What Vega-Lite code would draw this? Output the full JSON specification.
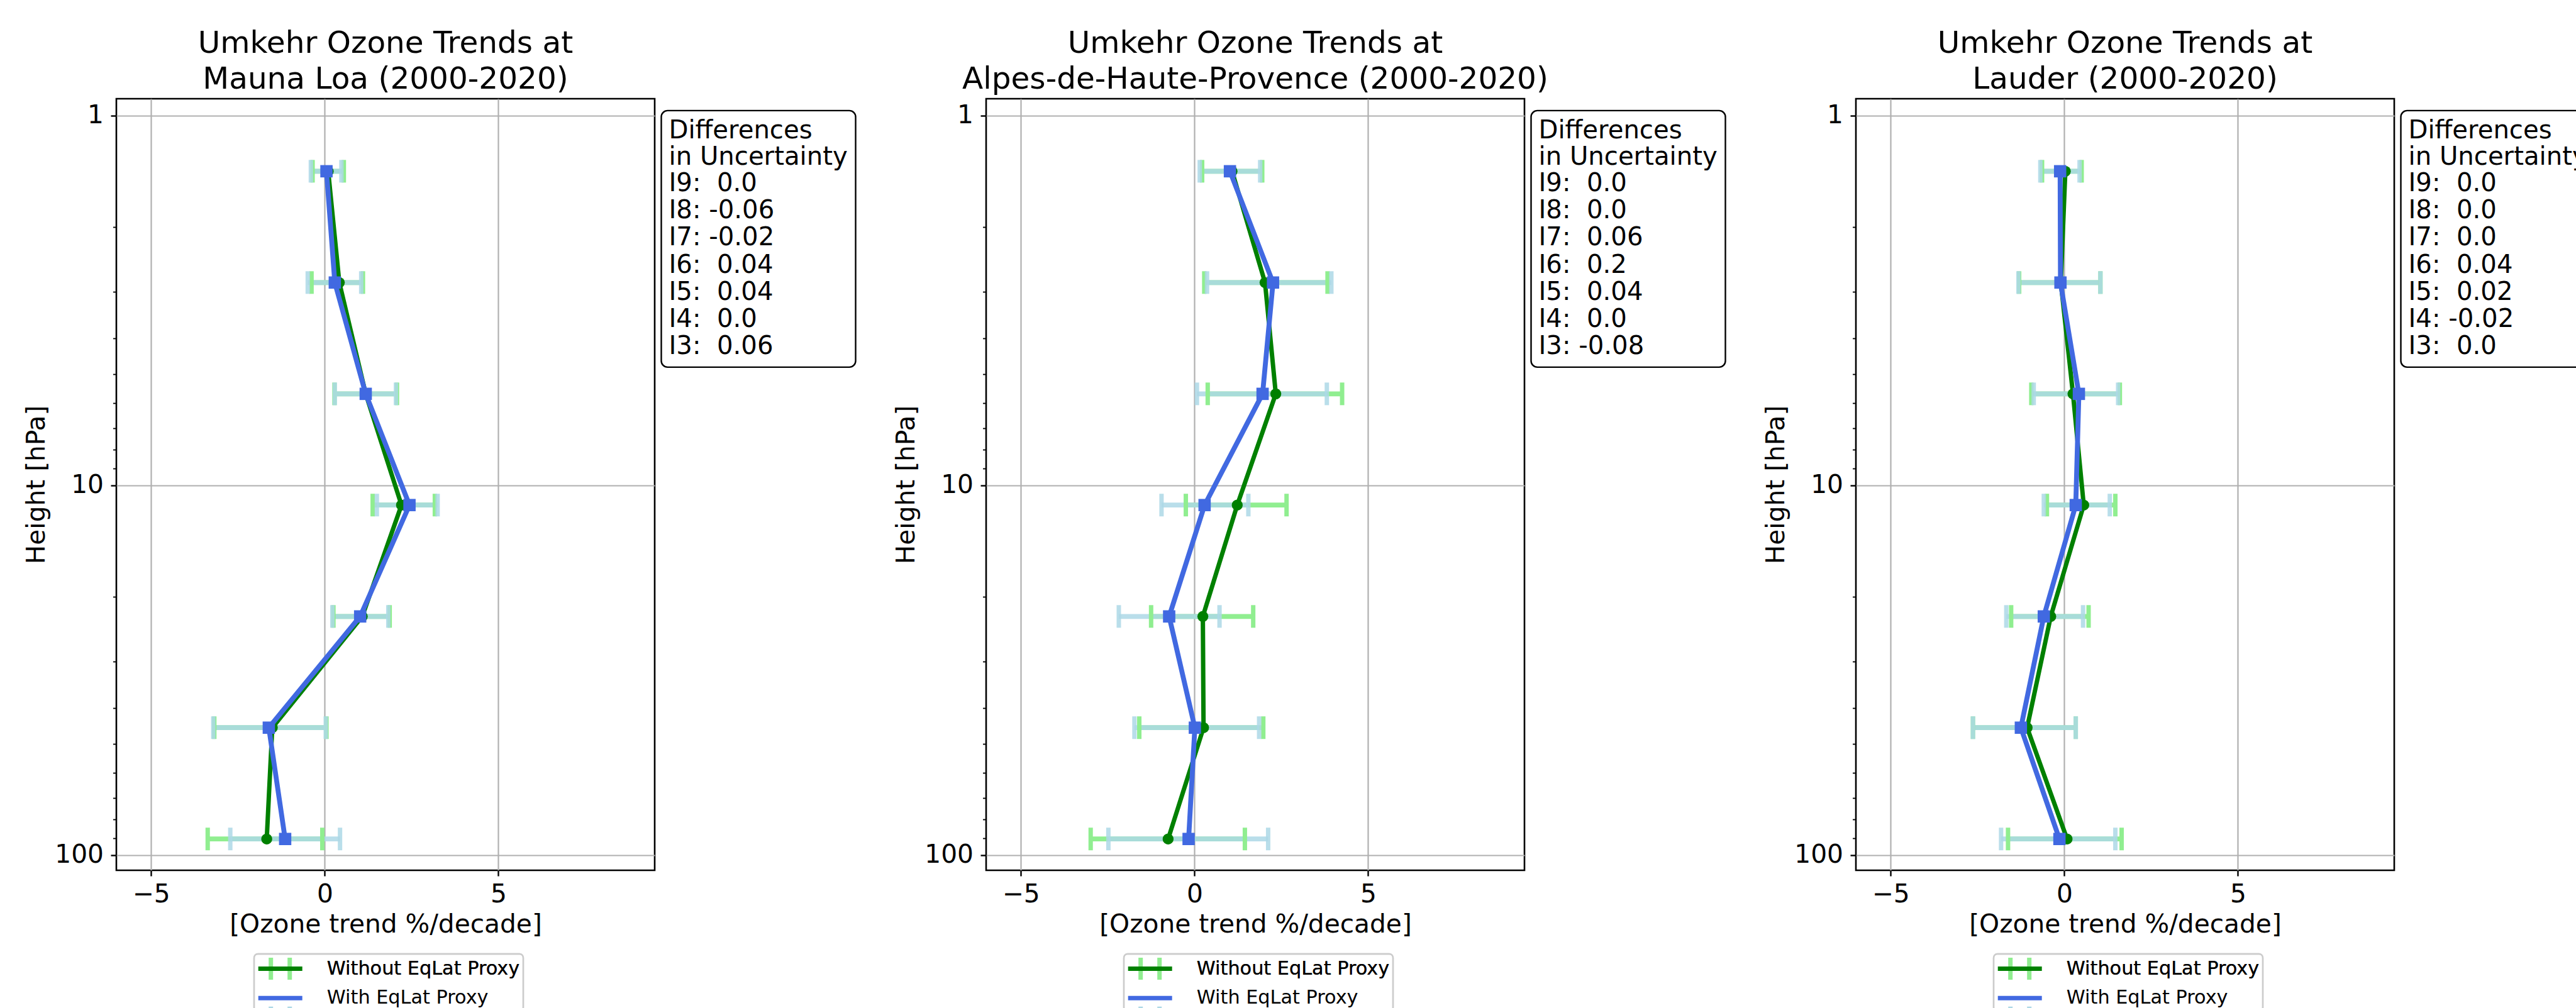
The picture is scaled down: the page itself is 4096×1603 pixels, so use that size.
{
  "$schema": "https://vega.github.io/schema/vega-lite/v6.json",
  "background": "white",
  "padding": {"left": 35, "top": 43, "right": 0, "bottom": 0},
  "datasets": {
    "trends": [
      {"site": "Mauna Loa", "series": "Without EqLat Proxy", "p": 1.414, "v": 0.10, "lo": -0.35, "hi": 0.55},
      {"site": "Mauna Loa", "series": "Without EqLat Proxy", "p": 2.828, "v": 0.42, "lo": -0.38, "hi": 1.10},
      {"site": "Mauna Loa", "series": "Without EqLat Proxy", "p": 5.657, "v": 1.18, "lo": 0.28, "hi": 2.08},
      {"site": "Mauna Loa", "series": "Without EqLat Proxy", "p": 11.31, "v": 2.21, "lo": 1.38, "hi": 3.17},
      {"site": "Mauna Loa", "series": "Without EqLat Proxy", "p": 22.63, "v": 1.08, "lo": 0.25, "hi": 1.87},
      {"site": "Mauna Loa", "series": "Without EqLat Proxy", "p": 45.25, "v": -1.51, "lo": -3.18, "hi": 0.05},
      {"site": "Mauna Loa", "series": "Without EqLat Proxy", "p": 90.51, "v": -1.67, "lo": -3.37, "hi": -0.07},
      {"site": "Mauna Loa", "series": "With EqLat Proxy", "p": 1.414, "v": 0.05, "lo": -0.40, "hi": 0.48},
      {"site": "Mauna Loa", "series": "With EqLat Proxy", "p": 2.828, "v": 0.29, "lo": -0.49, "hi": 1.05},
      {"site": "Mauna Loa", "series": "With EqLat Proxy", "p": 5.657, "v": 1.18, "lo": 0.29, "hi": 2.05},
      {"site": "Mauna Loa", "series": "With EqLat Proxy", "p": 11.31, "v": 2.44, "lo": 1.50, "hi": 3.25},
      {"site": "Mauna Loa", "series": "With EqLat Proxy", "p": 22.63, "v": 1.02, "lo": 0.22, "hi": 1.83},
      {"site": "Mauna Loa", "series": "With EqLat Proxy", "p": 45.25, "v": -1.61, "lo": -3.21, "hi": 0.03},
      {"site": "Mauna Loa", "series": "With EqLat Proxy", "p": 90.51, "v": -1.14, "lo": -2.72, "hi": 0.44},
      {"site": "Alpes-de-Haute-Provence", "series": "Without EqLat Proxy", "p": 1.414, "v": 1.08, "lo": 0.22, "hi": 1.95},
      {"site": "Alpes-de-Haute-Provence", "series": "Without EqLat Proxy", "p": 2.828, "v": 2.03, "lo": 0.28, "hi": 3.83},
      {"site": "Alpes-de-Haute-Provence", "series": "Without EqLat Proxy", "p": 5.657, "v": 2.34, "lo": 0.38, "hi": 4.25},
      {"site": "Alpes-de-Haute-Provence", "series": "Without EqLat Proxy", "p": 11.31, "v": 1.23, "lo": -0.25, "hi": 2.65},
      {"site": "Alpes-de-Haute-Provence", "series": "Without EqLat Proxy", "p": 22.63, "v": 0.24, "lo": -1.25, "hi": 1.69},
      {"site": "Alpes-de-Haute-Provence", "series": "Without EqLat Proxy", "p": 45.25, "v": 0.26, "lo": -1.59, "hi": 1.98},
      {"site": "Alpes-de-Haute-Provence", "series": "Without EqLat Proxy", "p": 90.51, "v": -0.76, "lo": -2.99, "hi": 1.45},
      {"site": "Alpes-de-Haute-Provence", "series": "With EqLat Proxy", "p": 1.414, "v": 1.02, "lo": 0.15, "hi": 1.89},
      {"site": "Alpes-de-Haute-Provence", "series": "With EqLat Proxy", "p": 2.828, "v": 2.26, "lo": 0.36, "hi": 3.94},
      {"site": "Alpes-de-Haute-Provence", "series": "With EqLat Proxy", "p": 5.657, "v": 1.96, "lo": 0.07, "hi": 3.81},
      {"site": "Alpes-de-Haute-Provence", "series": "With EqLat Proxy", "p": 11.31, "v": 0.29, "lo": -0.95, "hi": 1.55},
      {"site": "Alpes-de-Haute-Provence", "series": "With EqLat Proxy", "p": 22.63, "v": -0.73, "lo": -2.18, "hi": 0.72},
      {"site": "Alpes-de-Haute-Provence", "series": "With EqLat Proxy", "p": 45.25, "v": 0.01, "lo": -1.73, "hi": 1.86},
      {"site": "Alpes-de-Haute-Provence", "series": "With EqLat Proxy", "p": 90.51, "v": -0.17, "lo": -2.48, "hi": 2.12},
      {"site": "Lauder", "series": "Without EqLat Proxy", "p": 1.414, "v": 0.03, "lo": -0.64, "hi": 0.50},
      {"site": "Lauder", "series": "Without EqLat Proxy", "p": 2.828, "v": -0.10, "lo": -1.30, "hi": 1.04},
      {"site": "Lauder", "series": "Without EqLat Proxy", "p": 5.657, "v": 0.25, "lo": -0.95, "hi": 1.60},
      {"site": "Lauder", "series": "Without EqLat Proxy", "p": 11.31, "v": 0.56, "lo": -0.50, "hi": 1.47},
      {"site": "Lauder", "series": "Without EqLat Proxy", "p": 22.63, "v": -0.39, "lo": -1.53, "hi": 0.70},
      {"site": "Lauder", "series": "Without EqLat Proxy", "p": 45.25, "v": -1.07, "lo": -2.63, "hi": 0.33},
      {"site": "Lauder", "series": "Without EqLat Proxy", "p": 90.51, "v": 0.08, "lo": -1.62, "hi": 1.65},
      {"site": "Lauder", "series": "With EqLat Proxy", "p": 1.414, "v": -0.12, "lo": -0.69, "hi": 0.44},
      {"site": "Lauder", "series": "With EqLat Proxy", "p": 2.828, "v": -0.11, "lo": -1.32, "hi": 1.04},
      {"site": "Lauder", "series": "With EqLat Proxy", "p": 5.657, "v": 0.42, "lo": -0.88, "hi": 1.55},
      {"site": "Lauder", "series": "With EqLat Proxy", "p": 11.31, "v": 0.33, "lo": -0.59, "hi": 1.31},
      {"site": "Lauder", "series": "With EqLat Proxy", "p": 22.63, "v": -0.59, "lo": -1.67, "hi": 0.54},
      {"site": "Lauder", "series": "With EqLat Proxy", "p": 45.25, "v": -1.25, "lo": -2.63, "hi": 0.33},
      {"site": "Lauder", "series": "With EqLat Proxy", "p": 90.51, "v": -0.14, "lo": -1.82, "hi": 1.47}
    ],
    "diffs": [
      {"site": "Mauna Loa", "ord": 1, "label": "I9: \u00a00.0"},
      {"site": "Mauna Loa", "ord": 2, "label": "I8: -0.06"},
      {"site": "Mauna Loa", "ord": 3, "label": "I7: -0.02"},
      {"site": "Mauna Loa", "ord": 4, "label": "I6: \u00a00.04"},
      {"site": "Mauna Loa", "ord": 5, "label": "I5: \u00a00.04"},
      {"site": "Mauna Loa", "ord": 6, "label": "I4: \u00a00.0"},
      {"site": "Mauna Loa", "ord": 7, "label": "I3: \u00a00.06"},
      {"site": "Alpes-de-Haute-Provence", "ord": 1, "label": "I9: \u00a00.0"},
      {"site": "Alpes-de-Haute-Provence", "ord": 2, "label": "I8: \u00a00.0"},
      {"site": "Alpes-de-Haute-Provence", "ord": 3, "label": "I7: \u00a00.06"},
      {"site": "Alpes-de-Haute-Provence", "ord": 4, "label": "I6: \u00a00.2"},
      {"site": "Alpes-de-Haute-Provence", "ord": 5, "label": "I5: \u00a00.04"},
      {"site": "Alpes-de-Haute-Provence", "ord": 6, "label": "I4: \u00a00.0"},
      {"site": "Alpes-de-Haute-Provence", "ord": 7, "label": "I3: -0.08"},
      {"site": "Lauder", "ord": 1, "label": "I9: \u00a00.0"},
      {"site": "Lauder", "ord": 2, "label": "I8: \u00a00.0"},
      {"site": "Lauder", "ord": 3, "label": "I7: \u00a00.0"},
      {"site": "Lauder", "ord": 4, "label": "I6: \u00a00.04"},
      {"site": "Lauder", "ord": 5, "label": "I5: \u00a00.02"},
      {"site": "Lauder", "ord": 6, "label": "I4: -0.02"},
      {"site": "Lauder", "ord": 7, "label": "I3: \u00a00.0"}
    ]
  },
  "hconcat": [
    {
      "width": 856, "height": 1227,
      "title": {"text": ["Umkehr Ozone Trends at\u00a0", "Mauna Loa (2000-2020)"]},
      "resolve": {"axis": {"y": "independent"}},
      "layer": [
        {
          "data": {"name": "trends"},
          "transform": [{"filter": "datum.site == 'Mauna Loa'"}],
          "mark": {"type": "rule", "strokeWidth": 7.7, "strokeCap": "butt"},
          "encoding": {
            "y": {"field": "p", "type": "quantitative", "title": "Height [hPa]", "scale": {"type": "log", "domain": [0.9, 110], "reverse": true, "nice": false}, "axis": {"values": [1, 10, 100], "format": "d", "grid": true, "orient": "left"}},
            "x": {"field": "lo", "type": "quantitative", "title": "[Ozone trend %/decade]", "scale": {"domain": [-6, 9.5], "nice": false, "zero": false}, "axis": {"values": [-5, 0, 5], "grid": true}},
            "x2": {"field": "hi"},
            "stroke": {"field": "series", "type": "nominal", "sort": "descending", "scale": {"range": ["#90EE90", "#ADD8E6"]},
              "legend": {"orient": "none", "legendX": 219, "legendY": 1360, "direction": "vertical", "title": null, "symbolType": "M-1,-1.167V1.167M1,-1.167V1.167", "symbolSize": 900, "symbolStrokeWidth": 7, "symbolOffset": 18.2, "labelOffset": 55.6, "rowPadding": 12.8, "padding": 5, "strokeColor": "#cccccc", "cornerRadius": 6, "labelFontSize": 30.3}},
            "strokeOpacity": {"condition": {"test": "datum.series == 'With EqLat Proxy'", "value": 0.85}, "value": 1}
          }
        },
        {
          "data": {"name": "trends"},
          "transform": [{"filter": "datum.site == 'Mauna Loa' && datum.series == 'Without EqLat Proxy'"}, {"fold": ["lo", "hi"], "as": ["end", "xe"]}],
          "mark": {"type": "point", "shape": "M0,-1V1", "filled": false, "size": 1296, "strokeWidth": 7, "strokeCap": "butt", "opacity": 1, "stroke": "#90EE90"},
          "encoding": {
            "y": {"field": "p", "type": "quantitative", "scale": {"type": "log", "domain": [0.9, 110], "reverse": true, "nice": false}, "axis": {"values": [2, 3, 4, 5, 6, 7, 8, 9, 20, 30, 40, 50, 60, 70, 80, 90], "labels": false, "grid": false, "tickSize": 5.5, "tickWidth": 1.8, "title": null, "orient": "left"}},
            "x": {"field": "xe", "type": "quantitative", "title": "[Ozone trend %/decade]", "scale": {"domain": [-6, 9.5], "nice": false, "zero": false}, "axis": {"values": [-5, 0, 5], "grid": true}}
          }
        },
        {
          "data": {"name": "trends"},
          "transform": [{"filter": "datum.site == 'Mauna Loa' && datum.series == 'With EqLat Proxy'"}, {"fold": ["lo", "hi"], "as": ["end", "xe"]}],
          "mark": {"type": "point", "shape": "M0,-1V1", "filled": false, "size": 1296, "strokeWidth": 7, "strokeCap": "butt", "opacity": 1, "stroke": "#ADD8E6", "strokeOpacity": 0.85},
          "encoding": {
            "y": {"field": "p", "type": "quantitative", "scale": {"type": "log", "domain": [0.9, 110], "reverse": true, "nice": false}, "axis": null},
            "x": {"field": "xe", "type": "quantitative", "title": "[Ozone trend %/decade]", "scale": {"domain": [-6, 9.5], "nice": false, "zero": false}, "axis": {"values": [-5, 0, 5], "grid": true}}
          }
        },
        {
          "data": {"name": "trends"},
          "transform": [{"filter": "datum.site == 'Mauna Loa' && datum.series == 'Without EqLat Proxy'"}],
          "mark": {"type": "line", "strokeWidth": 7, "strokeJoin": "round"},
          "encoding": {
            "y": {"field": "p", "type": "quantitative", "scale": {"type": "log", "domain": [0.9, 110], "reverse": true, "nice": false}, "axis": null},
            "x": {"field": "v", "type": "quantitative", "title": "[Ozone trend %/decade]", "scale": {"domain": [-6, 9.5], "nice": false, "zero": false}, "axis": {"values": [-5, 0, 5], "grid": true}},
            "order": {"field": "p", "type": "quantitative"},
            "color": {"field": "series", "type": "nominal", "scale": {"domain": ["Without EqLat Proxy", "With EqLat Proxy"], "range": ["#008000", "#4169E1"]},
              "legend": {"orient": "none", "legendX": 219, "legendY": 1360, "direction": "vertical", "title": null, "symbolType": "M-2.333,0H2.333", "symbolSize": 900, "symbolStrokeWidth": 7, "symbolOffset": 18.2, "labelOffset": 55.6, "rowPadding": 12.8, "padding": 5, "strokeColor": "#cccccc", "cornerRadius": 6, "labelFontSize": 30.3}}
          }
        },
        {
          "data": {"name": "trends"},
          "transform": [{"filter": "datum.site == 'Mauna Loa' && datum.series == 'Without EqLat Proxy'"}],
          "mark": {"type": "point", "shape": "circle", "filled": true, "size": 302, "opacity": 1, "fill": "#008000"},
          "encoding": {
            "y": {"field": "p", "type": "quantitative", "scale": {"type": "log", "domain": [0.9, 110], "reverse": true, "nice": false}, "axis": null},
            "x": {"field": "v", "type": "quantitative", "title": "[Ozone trend %/decade]", "scale": {"domain": [-6, 9.5], "nice": false, "zero": false}, "axis": {"values": [-5, 0, 5], "grid": true}}
          }
        },
        {
          "data": {"name": "trends"},
          "transform": [{"filter": "datum.site == 'Mauna Loa' && datum.series == 'With EqLat Proxy'"}],
          "mark": {"type": "line", "strokeWidth": 7.8, "strokeJoin": "round"},
          "encoding": {
            "y": {"field": "p", "type": "quantitative", "scale": {"type": "log", "domain": [0.9, 110], "reverse": true, "nice": false}, "axis": null},
            "x": {"field": "v", "type": "quantitative", "title": "[Ozone trend %/decade]", "scale": {"domain": [-6, 9.5], "nice": false, "zero": false}, "axis": {"values": [-5, 0, 5], "grid": true}},
            "order": {"field": "p", "type": "quantitative"},
            "color": {"field": "series", "type": "nominal", "scale": {"domain": ["Without EqLat Proxy", "With EqLat Proxy"], "range": ["#008000", "#4169E1"]},
              "legend": {"orient": "none", "legendX": 219, "legendY": 1360, "direction": "vertical", "title": null, "symbolType": "M-2.333,0H2.333", "symbolSize": 900, "symbolStrokeWidth": 7, "symbolOffset": 18.2, "labelOffset": 55.6, "rowPadding": 12.8, "padding": 5, "strokeColor": "#cccccc", "cornerRadius": 6, "labelFontSize": 30.3}}
          }
        },
        {
          "data": {"name": "trends"},
          "transform": [{"filter": "datum.site == 'Mauna Loa' && datum.series == 'With EqLat Proxy'"}],
          "mark": {"type": "point", "shape": "square", "filled": true, "size": 384, "opacity": 1, "fill": "#4169E1"},
          "encoding": {
            "y": {"field": "p", "type": "quantitative", "scale": {"type": "log", "domain": [0.9, 110], "reverse": true, "nice": false}, "axis": null},
            "x": {"field": "v", "type": "quantitative", "title": "[Ozone trend %/decade]", "scale": {"domain": [-6, 9.5], "nice": false, "zero": false}, "axis": {"values": [-5, 0, 5], "grid": true}}
          }
        },
        {
          "data": {"name": "diffs"},
          "transform": [{"filter": "datum.site == 'Mauna Loa'"}],
          "mark": {"type": "point", "opacity": 0},
          "encoding": {
            "shape": {"field": "label", "type": "nominal", "sort": {"field": "ord", "op": "min"},
              "legend": {"orient": "none", "legendX": 866.5, "legendY": 18.9, "direction": "vertical", "title": ["Differences", "in Uncertainty"], "titleFontSize": 40.2, "titleFontWeight": "normal", "titleLineHeight": 42.5, "titlePadding": 1, "titleAnchor": "start", "labelFontSize": 40.2, "labelOffset": -40.2, "symbolSize": 0, "symbolStrokeWidth": 0, "symbolOpacity": 0, "rowPadding": 2.3, "padding": 12, "strokeColor": "black", "cornerRadius": 10, "encode": {"legend": {"strokeWidth": {"value": 2.6}}}}}
          }
        }
      ]
    },
    {
      "width": 856, "height": 1227,
      "title": {"text": ["Umkehr Ozone Trends at\u00a0", "Alpes-de-Haute-Provence (2000-2020)"]},
      "resolve": {"axis": {"y": "independent"}},
      "layer": [
        {
          "data": {"name": "trends"},
          "transform": [{"filter": "datum.site == 'Alpes-de-Haute-Provence'"}],
          "mark": {"type": "rule", "strokeWidth": 7.7, "strokeCap": "butt"},
          "encoding": {
            "y": {"field": "p", "type": "quantitative", "title": "Height [hPa]", "scale": {"type": "log", "domain": [0.9, 110], "reverse": true, "nice": false}, "axis": {"values": [1, 10, 100], "format": "d", "grid": true, "orient": "left"}},
            "x": {"field": "lo", "type": "quantitative", "title": "[Ozone trend %/decade]", "scale": {"domain": [-6, 9.5], "nice": false, "zero": false}, "axis": {"values": [-5, 0, 5], "grid": true}},
            "x2": {"field": "hi"},
            "stroke": {"field": "series", "type": "nominal", "sort": "descending", "scale": {"range": ["#90EE90", "#ADD8E6"]},
              "legend": {"orient": "none", "legendX": 219, "legendY": 1360, "direction": "vertical", "title": null, "symbolType": "M-1,-1.167V1.167M1,-1.167V1.167", "symbolSize": 900, "symbolStrokeWidth": 7, "symbolOffset": 18.2, "labelOffset": 55.6, "rowPadding": 12.8, "padding": 5, "strokeColor": "#cccccc", "cornerRadius": 6, "labelFontSize": 30.3}},
            "strokeOpacity": {"condition": {"test": "datum.series == 'With EqLat Proxy'", "value": 0.85}, "value": 1}
          }
        },
        {
          "data": {"name": "trends"},
          "transform": [{"filter": "datum.site == 'Alpes-de-Haute-Provence' && datum.series == 'Without EqLat Proxy'"}, {"fold": ["lo", "hi"], "as": ["end", "xe"]}],
          "mark": {"type": "point", "shape": "M0,-1V1", "filled": false, "size": 1296, "strokeWidth": 7, "strokeCap": "butt", "opacity": 1, "stroke": "#90EE90"},
          "encoding": {
            "y": {"field": "p", "type": "quantitative", "scale": {"type": "log", "domain": [0.9, 110], "reverse": true, "nice": false}, "axis": {"values": [2, 3, 4, 5, 6, 7, 8, 9, 20, 30, 40, 50, 60, 70, 80, 90], "labels": false, "grid": false, "tickSize": 5.5, "tickWidth": 1.8, "title": null, "orient": "left"}},
            "x": {"field": "xe", "type": "quantitative", "title": "[Ozone trend %/decade]", "scale": {"domain": [-6, 9.5], "nice": false, "zero": false}, "axis": {"values": [-5, 0, 5], "grid": true}}
          }
        },
        {
          "data": {"name": "trends"},
          "transform": [{"filter": "datum.site == 'Alpes-de-Haute-Provence' && datum.series == 'With EqLat Proxy'"}, {"fold": ["lo", "hi"], "as": ["end", "xe"]}],
          "mark": {"type": "point", "shape": "M0,-1V1", "filled": false, "size": 1296, "strokeWidth": 7, "strokeCap": "butt", "opacity": 1, "stroke": "#ADD8E6", "strokeOpacity": 0.85},
          "encoding": {
            "y": {"field": "p", "type": "quantitative", "scale": {"type": "log", "domain": [0.9, 110], "reverse": true, "nice": false}, "axis": null},
            "x": {"field": "xe", "type": "quantitative", "title": "[Ozone trend %/decade]", "scale": {"domain": [-6, 9.5], "nice": false, "zero": false}, "axis": {"values": [-5, 0, 5], "grid": true}}
          }
        },
        {
          "data": {"name": "trends"},
          "transform": [{"filter": "datum.site == 'Alpes-de-Haute-Provence' && datum.series == 'Without EqLat Proxy'"}],
          "mark": {"type": "line", "strokeWidth": 7, "strokeJoin": "round"},
          "encoding": {
            "y": {"field": "p", "type": "quantitative", "scale": {"type": "log", "domain": [0.9, 110], "reverse": true, "nice": false}, "axis": null},
            "x": {"field": "v", "type": "quantitative", "title": "[Ozone trend %/decade]", "scale": {"domain": [-6, 9.5], "nice": false, "zero": false}, "axis": {"values": [-5, 0, 5], "grid": true}},
            "order": {"field": "p", "type": "quantitative"},
            "color": {"field": "series", "type": "nominal", "scale": {"domain": ["Without EqLat Proxy", "With EqLat Proxy"], "range": ["#008000", "#4169E1"]},
              "legend": {"orient": "none", "legendX": 219, "legendY": 1360, "direction": "vertical", "title": null, "symbolType": "M-2.333,0H2.333", "symbolSize": 900, "symbolStrokeWidth": 7, "symbolOffset": 18.2, "labelOffset": 55.6, "rowPadding": 12.8, "padding": 5, "strokeColor": "#cccccc", "cornerRadius": 6, "labelFontSize": 30.3}}
          }
        },
        {
          "data": {"name": "trends"},
          "transform": [{"filter": "datum.site == 'Alpes-de-Haute-Provence' && datum.series == 'Without EqLat Proxy'"}],
          "mark": {"type": "point", "shape": "circle", "filled": true, "size": 302, "opacity": 1, "fill": "#008000"},
          "encoding": {
            "y": {"field": "p", "type": "quantitative", "scale": {"type": "log", "domain": [0.9, 110], "reverse": true, "nice": false}, "axis": null},
            "x": {"field": "v", "type": "quantitative", "title": "[Ozone trend %/decade]", "scale": {"domain": [-6, 9.5], "nice": false, "zero": false}, "axis": {"values": [-5, 0, 5], "grid": true}}
          }
        },
        {
          "data": {"name": "trends"},
          "transform": [{"filter": "datum.site == 'Alpes-de-Haute-Provence' && datum.series == 'With EqLat Proxy'"}],
          "mark": {"type": "line", "strokeWidth": 7.8, "strokeJoin": "round"},
          "encoding": {
            "y": {"field": "p", "type": "quantitative", "scale": {"type": "log", "domain": [0.9, 110], "reverse": true, "nice": false}, "axis": null},
            "x": {"field": "v", "type": "quantitative", "title": "[Ozone trend %/decade]", "scale": {"domain": [-6, 9.5], "nice": false, "zero": false}, "axis": {"values": [-5, 0, 5], "grid": true}},
            "order": {"field": "p", "type": "quantitative"},
            "color": {"field": "series", "type": "nominal", "scale": {"domain": ["Without EqLat Proxy", "With EqLat Proxy"], "range": ["#008000", "#4169E1"]},
              "legend": {"orient": "none", "legendX": 219, "legendY": 1360, "direction": "vertical", "title": null, "symbolType": "M-2.333,0H2.333", "symbolSize": 900, "symbolStrokeWidth": 7, "symbolOffset": 18.2, "labelOffset": 55.6, "rowPadding": 12.8, "padding": 5, "strokeColor": "#cccccc", "cornerRadius": 6, "labelFontSize": 30.3}}
          }
        },
        {
          "data": {"name": "trends"},
          "transform": [{"filter": "datum.site == 'Alpes-de-Haute-Provence' && datum.series == 'With EqLat Proxy'"}],
          "mark": {"type": "point", "shape": "square", "filled": true, "size": 384, "opacity": 1, "fill": "#4169E1"},
          "encoding": {
            "y": {"field": "p", "type": "quantitative", "scale": {"type": "log", "domain": [0.9, 110], "reverse": true, "nice": false}, "axis": null},
            "x": {"field": "v", "type": "quantitative", "title": "[Ozone trend %/decade]", "scale": {"domain": [-6, 9.5], "nice": false, "zero": false}, "axis": {"values": [-5, 0, 5], "grid": true}}
          }
        },
        {
          "data": {"name": "diffs"},
          "transform": [{"filter": "datum.site == 'Alpes-de-Haute-Provence'"}],
          "mark": {"type": "point", "opacity": 0},
          "encoding": {
            "shape": {"field": "label", "type": "nominal", "sort": {"field": "ord", "op": "min"},
              "legend": {"orient": "none", "legendX": 866.5, "legendY": 18.9, "direction": "vertical", "title": ["Differences", "in Uncertainty"], "titleFontSize": 40.2, "titleFontWeight": "normal", "titleLineHeight": 42.5, "titlePadding": 1, "titleAnchor": "start", "labelFontSize": 40.2, "labelOffset": -40.2, "symbolSize": 0, "symbolStrokeWidth": 0, "symbolOpacity": 0, "rowPadding": 2.3, "padding": 12, "strokeColor": "black", "cornerRadius": 10, "encode": {"legend": {"strokeWidth": {"value": 2.6}}}}}
          }
        }
      ]
    },
    {
      "width": 856, "height": 1227,
      "title": {"text": ["Umkehr Ozone Trends at\u00a0", "Lauder (2000-2020)"]},
      "resolve": {"axis": {"y": "independent"}},
      "layer": [
        {
          "data": {"name": "trends"},
          "transform": [{"filter": "datum.site == 'Lauder'"}],
          "mark": {"type": "rule", "strokeWidth": 7.7, "strokeCap": "butt"},
          "encoding": {
            "y": {"field": "p", "type": "quantitative", "title": "Height [hPa]", "scale": {"type": "log", "domain": [0.9, 110], "reverse": true, "nice": false}, "axis": {"values": [1, 10, 100], "format": "d", "grid": true, "orient": "left"}},
            "x": {"field": "lo", "type": "quantitative", "title": "[Ozone trend %/decade]", "scale": {"domain": [-6, 9.5], "nice": false, "zero": false}, "axis": {"values": [-5, 0, 5], "grid": true}},
            "x2": {"field": "hi"},
            "stroke": {"field": "series", "type": "nominal", "sort": "descending", "scale": {"range": ["#90EE90", "#ADD8E6"]},
              "legend": {"orient": "none", "legendX": 219, "legendY": 1360, "direction": "vertical", "title": null, "symbolType": "M-1,-1.167V1.167M1,-1.167V1.167", "symbolSize": 900, "symbolStrokeWidth": 7, "symbolOffset": 18.2, "labelOffset": 55.6, "rowPadding": 12.8, "padding": 5, "strokeColor": "#cccccc", "cornerRadius": 6, "labelFontSize": 30.3}},
            "strokeOpacity": {"condition": {"test": "datum.series == 'With EqLat Proxy'", "value": 0.85}, "value": 1}
          }
        },
        {
          "data": {"name": "trends"},
          "transform": [{"filter": "datum.site == 'Lauder' && datum.series == 'Without EqLat Proxy'"}, {"fold": ["lo", "hi"], "as": ["end", "xe"]}],
          "mark": {"type": "point", "shape": "M0,-1V1", "filled": false, "size": 1296, "strokeWidth": 7, "strokeCap": "butt", "opacity": 1, "stroke": "#90EE90"},
          "encoding": {
            "y": {"field": "p", "type": "quantitative", "scale": {"type": "log", "domain": [0.9, 110], "reverse": true, "nice": false}, "axis": {"values": [2, 3, 4, 5, 6, 7, 8, 9, 20, 30, 40, 50, 60, 70, 80, 90], "labels": false, "grid": false, "tickSize": 5.5, "tickWidth": 1.8, "title": null, "orient": "left"}},
            "x": {"field": "xe", "type": "quantitative", "title": "[Ozone trend %/decade]", "scale": {"domain": [-6, 9.5], "nice": false, "zero": false}, "axis": {"values": [-5, 0, 5], "grid": true}}
          }
        },
        {
          "data": {"name": "trends"},
          "transform": [{"filter": "datum.site == 'Lauder' && datum.series == 'With EqLat Proxy'"}, {"fold": ["lo", "hi"], "as": ["end", "xe"]}],
          "mark": {"type": "point", "shape": "M0,-1V1", "filled": false, "size": 1296, "strokeWidth": 7, "strokeCap": "butt", "opacity": 1, "stroke": "#ADD8E6", "strokeOpacity": 0.85},
          "encoding": {
            "y": {"field": "p", "type": "quantitative", "scale": {"type": "log", "domain": [0.9, 110], "reverse": true, "nice": false}, "axis": null},
            "x": {"field": "xe", "type": "quantitative", "title": "[Ozone trend %/decade]", "scale": {"domain": [-6, 9.5], "nice": false, "zero": false}, "axis": {"values": [-5, 0, 5], "grid": true}}
          }
        },
        {
          "data": {"name": "trends"},
          "transform": [{"filter": "datum.site == 'Lauder' && datum.series == 'Without EqLat Proxy'"}],
          "mark": {"type": "line", "strokeWidth": 7, "strokeJoin": "round"},
          "encoding": {
            "y": {"field": "p", "type": "quantitative", "scale": {"type": "log", "domain": [0.9, 110], "reverse": true, "nice": false}, "axis": null},
            "x": {"field": "v", "type": "quantitative", "title": "[Ozone trend %/decade]", "scale": {"domain": [-6, 9.5], "nice": false, "zero": false}, "axis": {"values": [-5, 0, 5], "grid": true}},
            "order": {"field": "p", "type": "quantitative"},
            "color": {"field": "series", "type": "nominal", "scale": {"domain": ["Without EqLat Proxy", "With EqLat Proxy"], "range": ["#008000", "#4169E1"]},
              "legend": {"orient": "none", "legendX": 219, "legendY": 1360, "direction": "vertical", "title": null, "symbolType": "M-2.333,0H2.333", "symbolSize": 900, "symbolStrokeWidth": 7, "symbolOffset": 18.2, "labelOffset": 55.6, "rowPadding": 12.8, "padding": 5, "strokeColor": "#cccccc", "cornerRadius": 6, "labelFontSize": 30.3}}
          }
        },
        {
          "data": {"name": "trends"},
          "transform": [{"filter": "datum.site == 'Lauder' && datum.series == 'Without EqLat Proxy'"}],
          "mark": {"type": "point", "shape": "circle", "filled": true, "size": 302, "opacity": 1, "fill": "#008000"},
          "encoding": {
            "y": {"field": "p", "type": "quantitative", "scale": {"type": "log", "domain": [0.9, 110], "reverse": true, "nice": false}, "axis": null},
            "x": {"field": "v", "type": "quantitative", "title": "[Ozone trend %/decade]", "scale": {"domain": [-6, 9.5], "nice": false, "zero": false}, "axis": {"values": [-5, 0, 5], "grid": true}}
          }
        },
        {
          "data": {"name": "trends"},
          "transform": [{"filter": "datum.site == 'Lauder' && datum.series == 'With EqLat Proxy'"}],
          "mark": {"type": "line", "strokeWidth": 7.8, "strokeJoin": "round"},
          "encoding": {
            "y": {"field": "p", "type": "quantitative", "scale": {"type": "log", "domain": [0.9, 110], "reverse": true, "nice": false}, "axis": null},
            "x": {"field": "v", "type": "quantitative", "title": "[Ozone trend %/decade]", "scale": {"domain": [-6, 9.5], "nice": false, "zero": false}, "axis": {"values": [-5, 0, 5], "grid": true}},
            "order": {"field": "p", "type": "quantitative"},
            "color": {"field": "series", "type": "nominal", "scale": {"domain": ["Without EqLat Proxy", "With EqLat Proxy"], "range": ["#008000", "#4169E1"]},
              "legend": {"orient": "none", "legendX": 219, "legendY": 1360, "direction": "vertical", "title": null, "symbolType": "M-2.333,0H2.333", "symbolSize": 900, "symbolStrokeWidth": 7, "symbolOffset": 18.2, "labelOffset": 55.6, "rowPadding": 12.8, "padding": 5, "strokeColor": "#cccccc", "cornerRadius": 6, "labelFontSize": 30.3}}
          }
        },
        {
          "data": {"name": "trends"},
          "transform": [{"filter": "datum.site == 'Lauder' && datum.series == 'With EqLat Proxy'"}],
          "mark": {"type": "point", "shape": "square", "filled": true, "size": 384, "opacity": 1, "fill": "#4169E1"},
          "encoding": {
            "y": {"field": "p", "type": "quantitative", "scale": {"type": "log", "domain": [0.9, 110], "reverse": true, "nice": false}, "axis": null},
            "x": {"field": "v", "type": "quantitative", "title": "[Ozone trend %/decade]", "scale": {"domain": [-6, 9.5], "nice": false, "zero": false}, "axis": {"values": [-5, 0, 5], "grid": true}}
          }
        },
        {
          "data": {"name": "diffs"},
          "transform": [{"filter": "datum.site == 'Lauder'"}],
          "mark": {"type": "point", "opacity": 0},
          "encoding": {
            "shape": {"field": "label", "type": "nominal", "sort": {"field": "ord", "op": "min"},
              "legend": {"orient": "none", "legendX": 866.5, "legendY": 18.9, "direction": "vertical", "title": ["Differences", "in Uncertainty"], "titleFontSize": 40.2, "titleFontWeight": "normal", "titleLineHeight": 42.5, "titlePadding": 1, "titleAnchor": "start", "labelFontSize": 40.2, "labelOffset": -40.2, "symbolSize": 0, "symbolStrokeWidth": 0, "symbolOpacity": 0, "rowPadding": 2.3, "padding": 12, "strokeColor": "black", "cornerRadius": 10, "encode": {"legend": {"strokeWidth": {"value": 2.6}}}}}
          }
        }
      ]
    }
  ],
  "spacing": 527,
  "bounds": "flush",
  "resolve": {
    "scale": {"color": "independent", "stroke": "independent", "shape": "independent"},
    "legend": {"color": "independent", "stroke": "independent", "shape": "independent"}
  },
  "config": {
    "font": "DejaVu Sans",
    "view": {"stroke": "black", "strokeWidth": 2.6},
    "axis": {
      "labelFont": "DejaVu Sans", "labelFontSize": 40.7, "labelColor": "black",
      "titleFont": "DejaVu Sans", "titleFontSize": 40.7, "titleFontWeight": "normal", "titleColor": "black",
      "tickColor": "black", "tickWidth": 2.4, "tickSize": 9,
      "domain": false, "gridColor": "#b0b0b0", "gridWidth": 2.2, "gridOpacity": 1
    },
    "axisX": {"labelPadding": 9.5, "titlePadding": 8},
    "axisY": {"labelPadding": 11.5, "titlePadding": 7.7},
    "legend": {"labelFont": "DejaVu Sans", "labelColor": "black", "titleFont": "DejaVu Sans", "titleColor": "black", "labelLimit": 1000, "titleLimit": 1000, "strokeWidth": 2.4},
    "title": {"font": "DejaVu Sans", "fontSize": 48.5, "fontWeight": "normal", "color": "black", "anchor": "middle", "frame": "group", "lineHeight": 57, "offset": 6}
  }
}
